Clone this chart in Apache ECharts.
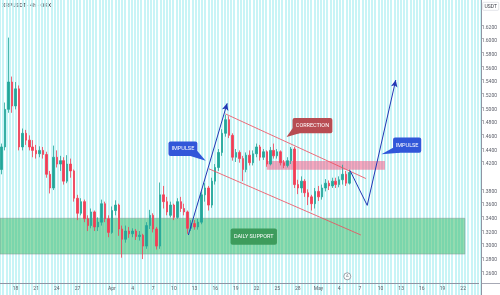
<!DOCTYPE html>
<html>
<head>
<meta charset="utf-8">
<script src="https://cdn.jsdelivr.net/npm/echarts@6/dist/echarts.min.js"></script>
<style>
  html, body { margin: 0; padding: 0; background: #fff; }
  #chart { width: 500px; height: 295px; }
</style>
</head>
<body>
<div id="chart"></div>
<script>
// 12h slots from 16 Mar, enough to fill the visible range
const slotCount = 139;
const startDay = Date.UTC(2021, 2, 16);
const pad = n => (n < 10 ? '0' : '') + n;
const slots = [];
for (let i = 0; i < slotCount; i++) {
  const d = new Date(startDay + i * 12 * 3600 * 1000);
  slots.push(pad(d.getUTCMonth() + 1) + '-' + pad(d.getUTCDate()) + ' ' + pad(d.getUTCHours()));
}

// day labels on the time scale
const tickLabels = [
  ['03-18', '18'], ['03-21', '21'], ['03-24', '24'], ['03-27', '27'],
  ['04-01', 'Apr'], ['04-04', '4'], ['04-07', '7'], ['04-10', '10'], ['04-13', '13'],
  ['04-16', '16'], ['04-19', '19'], ['04-22', '22'], ['04-25', '25'], ['04-28', '28'],
  ['05-01', 'May'], ['05-04', '4'], ['05-07', '7'], ['05-10', '10'], ['05-13', '13'],
  ['05-16', '16'], ['05-19', '19'], ['05-22', '22']
];
const tickMap = {};
tickLabels.forEach(t => { tickMap[t[0] + ' 00'] = t[1]; });

// price scale ticks (x100) that are covered or off screen
const hiddenTicks = [124, 140, 164, 166];
const lastPrice = 1.4077;

// candles, 12h each: [open, close, low, high]
const candles = [
  [1.412,1.445,1.405,1.450],[1.445,1.500,1.440,1.510],[1.500,1.540,1.495,1.605],[1.540,1.505,1.495,1.548],
  [1.505,1.530,1.500,1.540],[1.530,1.445,1.440,1.535],[1.445,1.465,1.440,1.472],[1.465,1.455,1.448,1.470],
  [1.455,1.445,1.440,1.462],[1.445,1.440,1.430,1.455],[1.440,1.435,1.428,1.448],[1.435,1.440,1.430,1.446],
  [1.440,1.434,1.428,1.445],[1.434,1.405,1.400,1.438],[1.405,1.385,1.377,1.410],[1.385,1.430,1.382,1.447],
  [1.430,1.420,1.415,1.440],[1.420,1.425,1.410,1.432],[1.425,1.395,1.390,1.430],[1.395,1.420,1.392,1.433],
  [1.420,1.410,1.400,1.428],[1.410,1.370,1.365,1.412],[1.370,1.348,1.338,1.375],[1.348,1.365,1.345,1.370],
  [1.365,1.340,1.335,1.368],[1.340,1.330,1.322,1.345],[1.330,1.350,1.326,1.355],[1.350,1.328,1.322,1.352],
  [1.328,1.335,1.322,1.342],[1.335,1.362,1.330,1.368],[1.362,1.340,1.335,1.365],[1.340,1.320,1.313,1.345],
  [1.320,1.352,1.318,1.358],[1.352,1.360,1.345,1.367],[1.360,1.325,1.315,1.362],[1.325,1.310,1.283,1.330],
  [1.310,1.322,1.305,1.330],[1.322,1.318,1.312,1.328],[1.318,1.322,1.313,1.326],[1.322,1.314,1.309,1.325],
  [1.314,1.316,1.308,1.322],[1.316,1.300,1.281,1.318],[1.300,1.330,1.296,1.335],[1.330,1.345,1.325,1.353],
  [1.345,1.325,1.320,1.348],[1.325,1.300,1.295,1.328],[1.300,1.375,1.296,1.393],[1.375,1.365,1.355,1.388],
  [1.365,1.350,1.345,1.372],[1.345,1.360,1.342,1.365],[1.360,1.342,1.338,1.362],[1.342,1.365,1.340,1.370],
  [1.365,1.355,1.350,1.372],[1.355,1.350,1.345,1.362],[1.350,1.326,1.318,1.352],[1.326,1.333,1.322,1.338],
  [1.333,1.328,1.324,1.338],[1.328,1.335,1.324,1.340],[1.335,1.375,1.332,1.380],[1.375,1.385,1.365,1.392],
  [1.385,1.360,1.352,1.388],[1.360,1.395,1.356,1.400],[1.395,1.415,1.390,1.420],[1.415,1.437,1.410,1.442],
  [1.437,1.465,1.432,1.471],[1.465,1.485,1.460,1.492],[1.485,1.462,1.458,1.490],[1.462,1.430,1.425,1.465],
  [1.430,1.437,1.423,1.442],[1.437,1.428,1.422,1.440],[1.428,1.412,1.395,1.432],[1.412,1.433,1.408,1.437],
  [1.433,1.422,1.418,1.440],[1.422,1.435,1.418,1.440],[1.435,1.445,1.430,1.450],[1.445,1.430,1.425,1.448],
  [1.430,1.438,1.426,1.442],[1.438,1.420,1.416,1.440],[1.420,1.440,1.418,1.445],[1.440,1.432,1.428,1.450],
  [1.432,1.438,1.428,1.442],[1.438,1.422,1.418,1.440],[1.422,1.418,1.414,1.426],[1.418,1.425,1.415,1.430],
  [1.425,1.442,1.420,1.445],[1.442,1.390,1.385,1.445],[1.390,1.385,1.376,1.397],[1.385,1.395,1.378,1.402],
  [1.395,1.378,1.372,1.398],[1.378,1.372,1.360,1.383],[1.372,1.362,1.352,1.375],[1.362,1.380,1.355,1.385],
  [1.380,1.372,1.366,1.388],[1.372,1.385,1.368,1.390],[1.385,1.392,1.380,1.398],[1.392,1.388,1.382,1.396],
  [1.388,1.395,1.385,1.400],[1.395,1.390,1.385,1.400],[1.390,1.397,1.386,1.402],[1.397,1.405,1.390,1.419],
  [1.405,1.392,1.388,1.410],[1.392,1.4077,1.390,1.412]
];

// drawings, in [slot position, price]
const supportZone = [[0, 1.3407], [135.0, 1.2883]];
const resistZone = [[77.45, 1.4243], [111.8, 1.4116]];
const impulseArrow = [[54.70, 1.3162], [65.97, 1.5088]];
const projection = [[101.64, 1.4106], [106.64, 1.3596], [114.93, 1.5429]];
const channelTop = [[65.51, 1.4933], [106.26, 1.3988]];
const channelBottom = [[60.69, 1.4130], [104.81, 1.3162]];
const eventMarks = [[100.85, 1.2558]];

// callout boxes [x1, top, x2, bottom], their pointer tips and texts
const calloutBoxes = [
  [48.93, 1.4531, 57.31, 1.4318],
  [84.96, 1.4873, 96.52, 1.4650],
  [114.15, 1.4587, 122.33, 1.4366],
  [66.96, 1.3256, 80.43, 1.3021]
];
const calloutTips = [[59.73, 1.4247], [83.23, 1.4597], [110.77, 1.4342], null];
const calloutTexts = ['IMPULSE', 'CORRECTION', 'IMPULSE', 'DAILY SUPPORT'];
const calloutColors = ['#3157d9', '#b84c52', '#3157d9', '#3d9c5c'];

const stripeCount = 150;
const stripes = [];
for (let i = 0; i < stripeCount; i++) stripes.push(i);

const chart = echarts.init(document.getElementById('chart'));

const redLine = { color: '#f0495c', width: 0.8, type: 'solid' };
const blueLine = { color: '#2338b5', width: 1, type: 'solid' };

const option = {
  animation: false,
  backgroundColor: '#ffffff',
  textStyle: { fontFamily: 'Roboto, sans-serif' },
  grid: [
    { left: 0, width: 481, top: -9.4, height: 296.5 },
    { left: 0, width: 481, top: 0, bottom: 0 }
  ],
  xAxis: [
    {
      type: 'category', gridIndex: 0, data: slots, boundaryGap: true, offset: -4,
      axisLine: { lineStyle: { color: '#9094a3', width: 1 } },
      axisTick: { show: false },
      splitLine: { show: false },
      axisLabel: {
        interval: (i, v) => tickMap[v] !== undefined,
        formatter: v => tickMap[v] || '',
        fontSize: 5, color: '#5d606b', margin: 3
      }
    },
    { type: 'value', gridIndex: 0, min: 0, max: slotCount, show: false },
    {
      type: 'category', gridIndex: 1, data: stripes, boundaryGap: true,
      axisLine: { show: false }, axisTick: { show: false }, axisLabel: { show: false },
      splitLine: { show: true, interval: 0, lineStyle: { color: '#b6f0f3', width: 1.5 } }
    }
  ],
  yAxis: [
    {
      type: 'value', gridIndex: 0, position: 'right', min: 1.24, max: 1.66, interval: 0.02,
      axisLine: { show: false }, axisTick: { show: false }, splitLine: { show: false },
      axisLabel: {
        fontSize: 5, color: '#5d606b', margin: 3,
        formatter: v => hiddenTicks.includes(Math.round(v * 100)) ? '' : v.toFixed(4)
      }
    },
    {
      type: 'value', gridIndex: 1, position: 'right',
      axisLine: { show: true, lineStyle: { color: '#9094a3' } },
      axisTick: { show: false }, axisLabel: { show: false }, splitLine: { show: false }
    }
  ],
  graphic: [
    {
      type: 'text', left: 2, top: 3,
      style: { text: 'XRPUSDT · 4h · OKX', fill: '#2f323c', font: '5.5px Roboto, sans-serif' }
    },
    {
      type: 'group', right: 1, top: 2,
      children: [
        { type: 'rect', shape: { x: 0, y: 0, width: 16, height: 8, r: 1 },
          style: { fill: '#fff', stroke: '#d0d3da', lineWidth: 0.6 } },
        { type: 'text', style: { text: 'USDT', x: 8, y: 4, align: 'center', verticalAlign: 'middle',
          fill: '#3b3e48', font: '5px Roboto, sans-serif' } }
      ]
    },
    {
      // price axis rule continues under the time labels' right end
      type: 'rect', left: 481, top: 283, shape: { width: 19, height: 0.8 },
      style: { fill: '#9094a3' }, silent: true
    }
  ],
  series: [
    {
      name: 'zones', type: 'line', xAxisIndex: 1, yAxisIndex: 0, data: [], z: 1, silent: true,
      markArea: {
        silent: true,
        data: [
          [{ coord: supportZone[0], itemStyle: { color: 'rgba(50,186,104,0.52)', borderColor: 'rgba(140,150,150,0.6)', borderWidth: 0.8 } },
           { coord: supportZone[1] }],
          [{ coord: resistZone[0], itemStyle: { color: 'rgba(242,80,125,0.5)' } },
           { coord: resistZone[1] }]
        ]
      }
    },
    {
      name: 'XRPUSDT', type: 'candlestick', xAxisIndex: 0, yAxisIndex: 0, z: 2,
      data: candles, barWidth: 2,
      itemStyle: { color: '#22a699', color0: '#f23d55', borderColor: '#22a699', borderColor0: '#f23d55', borderWidth: 0.8 },
      markLine: {
        silent: true, symbol: ['none', 'none'],
        lineStyle: { opacity: 0 },
        label: {
          show: true, position: 'end', distance: 1, formatter: lastPrice.toFixed(4),
          backgroundColor: '#d9d0f2', color: '#2a2e39', fontSize: 5, padding: [2, 2]
        },
        data: [{ yAxis: lastPrice }]
      }
    },
    {
      name: 'drawings', type: 'line', xAxisIndex: 1, yAxisIndex: 0, data: [], z: 3, silent: true,
      markLine: {
        silent: true, symbol: ['none', 'none'], symbolSize: [5, 7],
        label: { show: false },
        emphasis: { disabled: true },
        data: [
          [{ coord: channelTop[0], lineStyle: redLine }, { coord: channelTop[1] }],
          [{ coord: channelBottom[0], lineStyle: redLine }, { coord: channelBottom[1] }],
          [{ coord: impulseArrow[0], lineStyle: blueLine }, { coord: impulseArrow[1], symbol: 'arrow' }],
          [{ coord: projection[0], lineStyle: blueLine }, { coord: projection[1] }],
          [{ coord: projection[1], lineStyle: blueLine }, { coord: projection[2], symbol: 'arrow' }]
        ]
      }
    },
    {
      name: 'callouts', type: 'custom', xAxisIndex: 1, yAxisIndex: 0, z: 4, silent: true, clip: false,
      data: calloutBoxes,
      encode: { x: [0, 2], y: [1, 3] },
      renderItem: (params, api) => {
        const i = params.dataIndex;
        const p1 = api.coord([api.value(0), api.value(1)]);
        const p2 = api.coord([api.value(2), api.value(3)]);
        const x = p1[0], y = p1[1], w = p2[0] - p1[0], h = p2[1] - p1[1];
        const color = calloutColors[i];
        const children = [
          { type: 'rect', shape: { x: x, y: y, width: w, height: h, r: 2 }, style: { fill: color } }
        ];
        if (calloutTips[i]) {
          const t = api.coord(calloutTips[i]);
          const cx = t[0] < x + w / 2 ? x : x + w;
          const cy = t[1] < y + h / 2 ? y : y + h;
          const dx = cx === x ? 7 : -7;
          const dy = cy === y ? 5 : -5;
          children.push({ type: 'polygon', shape: { points: [[cx + dx, cy], [cx, cy + dy], t] }, style: { fill: color } });
        }
        children.push({
          type: 'text',
          style: { text: calloutTexts[i], x: x + w / 2, y: y + h / 2, align: 'center', verticalAlign: 'middle',
            fill: '#ffffff', font: '5.5px Roboto, sans-serif' }
        });
        return { type: 'group', children: children };
      }
    },
    {
      name: 'events', type: 'scatter', xAxisIndex: 1, yAxisIndex: 0, z: 4, silent: true,
      data: eventMarks, symbol: 'circle', symbolSize: 7,
      itemStyle: { color: '#ffffff', borderColor: '#5d606b', borderWidth: 0.7 },
      label: { show: true, position: 'inside', formatter: 'A', fontSize: 4, color: '#5d606b' }
    }
  ]
};

chart.setOption(option);
</script>
</body>
</html>
